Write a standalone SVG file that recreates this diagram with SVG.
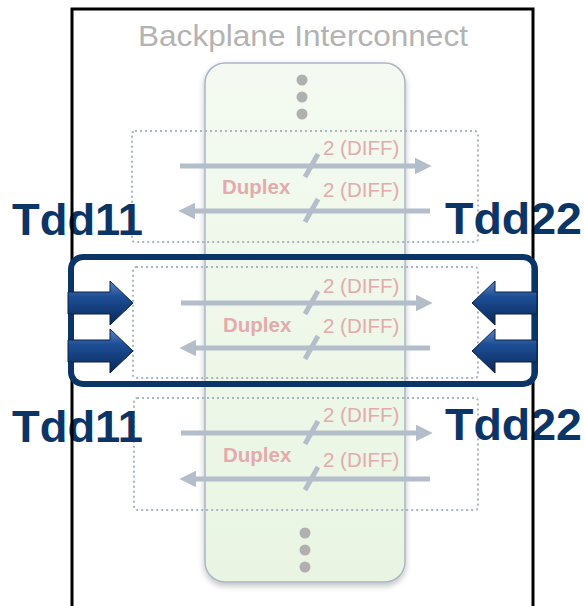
<svg xmlns="http://www.w3.org/2000/svg" width="585" height="606" viewBox="0 0 585 606">
  <defs>
    <style>
      .title { font-family: "Liberation Sans", Arial, sans-serif; font-size: 30px; fill: #b3b3b3; }
      .lane { fill: none; stroke: #a9b5c5; stroke-width: 2; stroke-dasharray: 2 3; }
      .sig { stroke: #b4becb; stroke-width: 5; fill: none; }
      .tick { stroke: #b4becb; stroke-width: 5; }
      .diff { font-family: "Liberation Sans", Arial, sans-serif; font-size: 20.5px; fill: #e3abab; }
      .duplex { font-family: "Liberation Sans", Arial, sans-serif; font-size: 20.5px; font-weight: bold; fill: #e3abab; }
      .port { font-family: "Liberation Sans", Arial, sans-serif; font-size: 45px; font-weight: bold; fill: #0b3566; }
      .dot { fill: #b0b0b0; }
      .bigarrow { fill: url(#bevel); stroke: #0a2246; stroke-width: 1; }
    </style>
    <linearGradient id="greenFill" x1="0" y1="0" x2="0" y2="1">
      <stop offset="0" stop-color="#f4faf1"/>
      <stop offset="1" stop-color="#e9f5e2"/>
    </linearGradient>
    <linearGradient id="bevel" x1="0" y1="0" x2="0" y2="1">
      <stop offset="0" stop-color="#5a86c4"/>
      <stop offset="0.35" stop-color="#1d4e95"/>
      <stop offset="0.7" stop-color="#123a75"/>
      <stop offset="1" stop-color="#0a2550"/>
    </linearGradient>
    <filter id="soft" x="-20%" y="-20%" width="140%" height="140%">
      <feGaussianBlur in="SourceAlpha" stdDeviation="3"/>
      <feOffset dy="3" result="b"/>
      <feComponentTransfer><feFuncA type="linear" slope="0.25"/></feComponentTransfer>
      <feMerge><feMergeNode/><feMergeNode in="SourceGraphic"/></feMerge>
    </filter>
    <marker id="head" viewBox="0 0 10 10" refX="2" refY="5" markerWidth="3.4" markerHeight="3.4" orient="auto" markerUnits="strokeWidth">
      <path d="M0,0 L10,5 L0,10 z" fill="#b4becb"/>
    </marker>
    <!-- beveled block arrow pointing right, tip at origin -->
    <path id="blockR" d="M-65,-11 L-23,-11 L-23,-22 L0,0 L-23,22 L-23,11 L-65,11 z"/>
  </defs>

  <rect x="0" y="0" width="585" height="606" fill="#ffffff"/>

  <text class="title" x="138" y="46" textLength="330" lengthAdjust="spacingAndGlyphs">Backplane Interconnect</text>

  <!-- backplane body -->
  <g id="backplane">
    <rect x="205" y="63" width="200" height="519" rx="20" fill="url(#greenFill)" stroke="#a9b5c5" stroke-width="1.5" filter="url(#soft)"/>
    <circle class="dot" cx="302" cy="80" r="5.5"/>
    <circle class="dot" cx="302" cy="97" r="5.5"/>
    <circle class="dot" cx="302" cy="114" r="5.5"/>
    <circle class="dot" cx="305" cy="533" r="5.5"/>
    <circle class="dot" cx="305" cy="550" r="5.5"/>
    <circle class="dot" cx="305" cy="567" r="5.5"/>
  </g>

  <!-- duplex lanes -->
  <g id="lane1">
    <rect class="lane" x="132" y="131" width="346" height="111" rx="3"/>
    <text class="duplex" x="222" y="194">Duplex</text>
    <text class="diff" x="323" y="155">2 (DIFF)</text>
    <text class="diff" x="323" y="197">2 (DIFF)</text>
  </g>
  <g id="lane2">
    <rect class="lane" x="133" y="267" width="345" height="111" rx="3"/>
    <text class="duplex" x="223" y="332">Duplex</text>
    <text class="diff" x="323" y="293">2 (DIFF)</text>
    <text class="diff" x="323" y="333">2 (DIFF)</text>
  </g>
  <g id="lane3">
    <rect class="lane" x="134" y="398" width="344" height="112" rx="3"/>
    <text class="duplex" x="223" y="462">Duplex</text>
    <text class="diff" x="323" y="422">2 (DIFF)</text>
    <text class="diff" x="323" y="467">2 (DIFF)</text>
  </g>

  <!-- signal connectors -->
  <g id="connectors">
    <path class="sig" d="M180,166 H418" marker-end="url(#head)"/>
    <path class="sig" d="M430,211 H192" marker-end="url(#head)"/>
    <line class="tick" x1="305" y1="177" x2="318" y2="154"/>
    <line class="tick" x1="305" y1="222" x2="318" y2="199"/>

    <path class="sig" d="M181,303 H419" marker-end="url(#head)"/>
    <path class="sig" d="M430,348 H193" marker-end="url(#head)"/>
    <line class="tick" x1="305" y1="314" x2="318" y2="291"/>
    <line class="tick" x1="305" y1="359" x2="318" y2="336"/>

    <path class="sig" d="M181,433 H419" marker-end="url(#head)"/>
    <path class="sig" d="M430,479 H193" marker-end="url(#head)"/>
    <line class="tick" x1="305" y1="444" x2="318" y2="421"/>
    <line class="tick" x1="305" y1="490" x2="318" y2="467"/>
  </g>

  <!-- port labels -->
  <g id="ports">
    <text class="port" x="12" y="235" textLength="131" lengthAdjust="spacingAndGlyphs">Tdd11</text>
    <text class="port" x="445" y="234" textLength="137" lengthAdjust="spacingAndGlyphs">Tdd22</text>
    <text class="port" x="12" y="442" textLength="131" lengthAdjust="spacingAndGlyphs">Tdd11</text>
    <text class="port" x="445" y="440" textLength="137" lengthAdjust="spacingAndGlyphs">Tdd22</text>
  </g>

  <!-- card outline -->
  <path d="M72,612 V9 H533 V612" fill="none" stroke="#000000" stroke-width="3"/>

  <!-- highlighted lane -->
  <g id="highlight">
    <rect x="71" y="257" width="464" height="127" rx="12" fill="none" stroke="#0b3566" stroke-width="6"/>
  </g>

  <g id="txArrows">
    <use href="#blockR" class="bigarrow" transform="translate(133,303)"/>
    <use href="#blockR" class="bigarrow" transform="translate(133,351)"/>
  </g>
  <g id="rxArrows">
    <use href="#blockR" class="bigarrow" transform="translate(472,303) scale(-1,1)"/>
    <use href="#blockR" class="bigarrow" transform="translate(472,351) scale(-1,1)"/>
  </g>
</svg>
